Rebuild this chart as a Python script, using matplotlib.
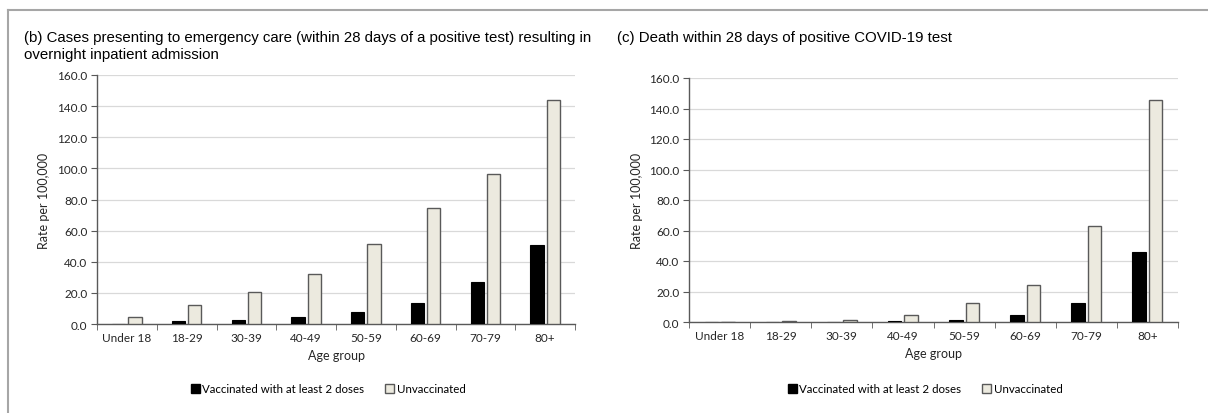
import matplotlib
matplotlib.use("Agg")
import matplotlib.pyplot as plt
import numpy as np
from matplotlib.patches import Patch
from matplotlib.lines import Line2D

categories = ["Under 18", "18-29", "30-39", "40-49", "50-59", "60-69", "70-79", "80+"]
admit_vacc = [0.0, 2.0, 2.5, 4.5, 8.0, 13.7, 27.0, 50.5]
admit_unvacc = [4.3, 12.0, 20.7, 32.2, 51.7, 74.4, 96.6, 144.0]
death_vacc = [0.0, 0.1, 0.2, 0.5, 1.3, 4.3, 12.2, 45.6]
death_unvacc = [0.2, 0.4, 1.3, 4.3, 12.2, 24.3, 63.0, 145.5]
yticks = [0, 20, 40, 60, 80, 100, 120, 140, 160]
series_labels = ["Vaccinated with at least 2 doses", "Unvaccinated"]
titles = ["(b) Cases presenting to emergency care (within 28 days of a positive test) resulting in\novernight inpatient admission",
          "(c) Death within 28 days of positive COVID-19 test"]

W, H = 1208, 414
fig = plt.figure(figsize=(W / 100, H / 100), dpi=100)

tick_font = "Lato"
unv_color = "#ECEADF"
edge_col = "#595959"
spine_col = "#595959"

# outer frame
fig.add_artist(Line2D([8 / W, 8 / W], [0, 1 - 11 / H], transform=fig.transFigure, color="#A6A6A6", lw=1.5))
fig.add_artist(Line2D([8 / W, 1], [1 - 11 / H, 1 - 11 / H], transform=fig.transFigure, color="#A6A6A6", lw=1.5))

def draw(rect, vacc, unvacc, title, title_xy, ylab_x, legend_x):
    ax = fig.add_axes(rect)
    x = np.arange(len(categories))
    bw = 0.22
    gap = 0.025
    ax.bar(x - bw / 2 - gap, vacc, width=bw, color="black", edgecolor="black", linewidth=0.8, zorder=3)
    ax.bar(x + bw / 2 + gap, unvacc, width=bw, color=unv_color, edgecolor=edge_col, linewidth=1.0, zorder=3)
    ax.set_xlim(-0.5, len(categories) - 0.5)
    ax.set_ylim(0, 160)
    ax.set_yticks(yticks)
    ax.set_yticklabels([f"{v:.1f}" for v in yticks], fontsize=8.5, family=tick_font, color="#262626")
    ax.set_xticks(x)
    ax.set_xticklabels(categories, fontsize=8.5, family=tick_font, color="#262626")
    ax.tick_params(axis="x", length=0, pad=6)
    ax.set_xticks(np.arange(-0.5, len(categories)), minor=True)
    ax.tick_params(axis="x", which="minor", length=4, color=spine_col, direction="out")
    ax.tick_params(axis="y", length=4, color=spine_col, direction="out", pad=3)
    ax.grid(axis="y", color="#D9D9D9", lw=0.9, zorder=0)
    for s in ["top", "right"]:
        ax.spines[s].set_visible(False)
    for s in ["left", "bottom"]:
        ax.spines[s].set_color(spine_col)
        ax.spines[s].set_linewidth(1.0)
    ax.set_xlabel("Age group", fontsize=9, family=tick_font, color="#262626", labelpad=4)
    ax.set_ylabel("Rate per 100,000", fontsize=9, family=tick_font, color="#262626")
    ax.yaxis.set_label_coords((ylab_x - rect[0] * W) / (rect[2] * W), 0.5)
    fig.text(title_xy[0] / W, 1 - title_xy[1] / H, title, fontsize=10.8, family="Liberation Sans",
             va="top", ha="left", color="#000000", linespacing=1.3)
    handles = [Patch(facecolor="black", edgecolor="black"),
               Patch(facecolor=unv_color, edgecolor=edge_col)]
    fig.legend(handles, series_labels, loc="center left", bbox_to_anchor=(legend_x / W, 1 - 390 / H),
               ncol=2, frameon=False, prop={"family": tick_font, "size": 8.3},
               handlelength=0.8, handleheight=0.8, handletextpad=0.2, columnspacing=1.8, borderaxespad=0)
    return ax

draw([97 / W, 1 - 325 / H, (575 - 97) / W, (325 - 76) / H], admit_vacc, admit_unvacc, titles[0], (24, 31), 50, 186)
draw([689 / W, 1 - 323 / H, (1178 - 689) / W, (323 - 79) / H], death_vacc, death_unvacc, titles[1], (617, 31), 643, 783)

fig.savefig("out.png", dpi=100)
